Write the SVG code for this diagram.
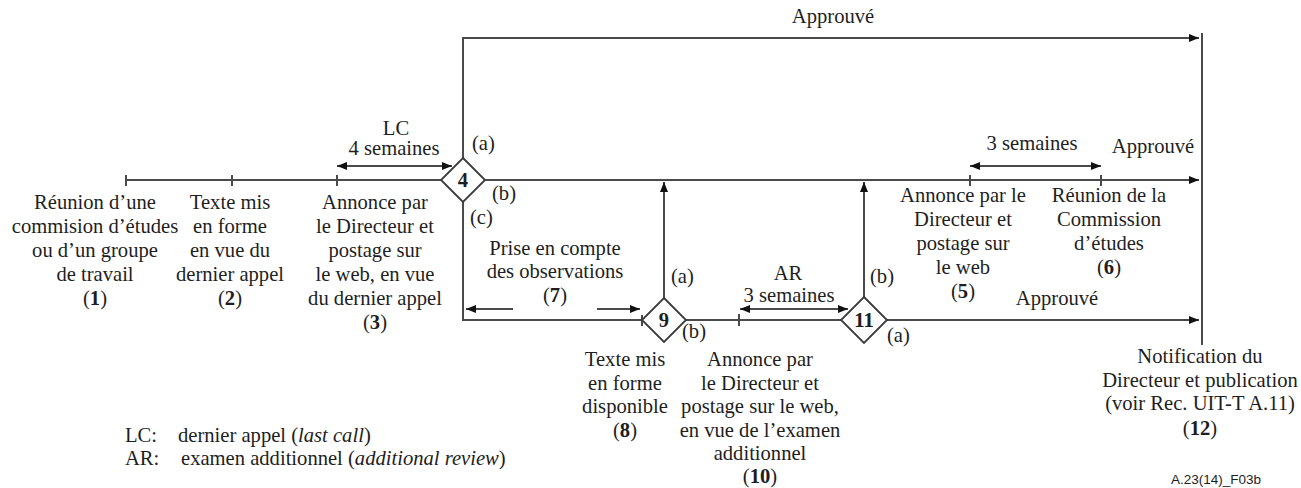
<svg xmlns="http://www.w3.org/2000/svg" width="1301" height="488" viewBox="0 0 1301 488">
  <style>
    text { font-family: "Liberation Serif", "Times New Roman", serif; font-size: 20.6px; fill: #1e1e1e; }
    .c { text-anchor: middle; }
    .b { font-weight: bold; }
    .ln { stroke: #4a4a4a; stroke-width: 2; fill: none; }
    .dm { stroke: #3a3a3a; stroke-width: 1.8; fill: #fff; }
    .code { font-family: "Liberation Sans", Arial, sans-serif; font-size: 13.5px; text-anchor: end; }
  </style>
  <defs>
    <marker id="arr" viewBox="0 0 10 8" refX="10" refY="4" markerWidth="10" markerHeight="8" markerUnits="userSpaceOnUse" orient="auto-start-reverse">
      <path d="M0,0 L10,4 L0,8 Z" fill="#111"/>
    </marker>
  </defs>

  <rect width="1301" height="488" fill="#fff"/>

  <!-- connectors -->
  <g id="connectors">
    <!-- main timeline -->
    <line class="ln" x1="126" y1="180" x2="441" y2="180"/>
    <line class="ln" x1="485" y1="180" x2="1199" y2="180" marker-end="url(#arr)"/>
    <line class="ln" x1="126" y1="175" x2="126" y2="186"/>
    <line class="ln" x1="232" y1="175" x2="232" y2="186"/>
    <line class="ln" x1="337" y1="175" x2="337" y2="186"/>
    <line class="ln" x1="970" y1="175" x2="970" y2="186"/>
    <line class="ln" x1="1101" y1="175" x2="1101" y2="186"/>

    <!-- (a) branch of 4: approved directly -->
    <polyline class="ln" points="463,158 463,38 1199,38" marker-end="url(#arr)"/>

    <!-- final bar -->
    <line class="ln" x1="1202" y1="33" x2="1202" y2="345"/>

    <!-- (c) branch of 4 to 9 -->
    <polyline class="ln" points="463,202 463,320 642,320"/>
    <line class="ln" x1="642" y1="315" x2="642" y2="326"/>

    <!-- 9 to 11 -->
    <line class="ln" x1="686" y1="320" x2="841" y2="320"/>
    <line class="ln" x1="739" y1="314" x2="739" y2="326"/>

    <!-- (a) branch of 11 -->
    <line class="ln" x1="887" y1="320" x2="1199" y2="320" marker-end="url(#arr)"/>

    <!-- upward returns to main line -->
    <line class="ln" x1="664" y1="298" x2="664" y2="182" marker-end="url(#arr)"/>
    <line class="ln" x1="864" y1="297" x2="864" y2="182" marker-end="url(#arr)"/>

    <!-- duration arrows -->
    <line class="ln" x1="337" y1="166" x2="452" y2="166" marker-start="url(#arr)" marker-end="url(#arr)"/>
    <line class="ln" x1="970" y1="166" x2="1101" y2="166" marker-start="url(#arr)" marker-end="url(#arr)"/>
    <line class="ln" x1="466" y1="309" x2="513" y2="309" marker-start="url(#arr)"/>
    <line class="ln" x1="597" y1="309" x2="640" y2="309" marker-end="url(#arr)"/>
    <line class="ln" x1="740" y1="309" x2="848" y2="309" marker-start="url(#arr)" marker-end="url(#arr)"/>
  </g>

  <!-- decision 4 -->
  <g id="node-4">
    <polygon class="dm" points="463,158 485,180 463,202 441,180"/>
    <text class="c b" x="463" y="187">4</text>
    <text x="472" y="150">(a)</text>
    <text x="492" y="200">(b)</text>
    <text x="470" y="224">(c)</text>
  </g>

  <!-- decision 9 -->
  <g id="node-9">
    <polygon class="dm" points="664,298 686,320 664,342 642,320"/>
    <text class="c b" x="664" y="327">9</text>
    <text x="671" y="283">(a)</text>
    <text x="682" y="338">(b)</text>
  </g>

  <!-- decision 11 -->
  <g id="node-11">
    <polygon class="dm" points="864,297 887,320 864,343 841,320"/>
    <text class="c b" x="864" y="327">11</text>
    <text x="870" y="283">(b)</text>
    <text x="887" y="342">(a)</text>
  </g>

  <g id="step-1">
    <text class="c" x="95" y="209">Réunion d’une</text>
    <text class="c" x="95" y="233">commision d’études</text>
    <text class="c" x="95" y="257">ou d’un groupe</text>
    <text class="c" x="95" y="281">de travail</text>
    <text class="c" x="95" y="305">(<tspan class="b">1</tspan>)</text>
  </g>

  <g id="step-2">
    <text class="c" x="230" y="209">Texte mis</text>
    <text class="c" x="230" y="233">en forme</text>
    <text class="c" x="230" y="257">en vue du</text>
    <text class="c" x="230" y="281">dernier appel</text>
    <text class="c" x="230" y="305">(<tspan class="b">2</tspan>)</text>
  </g>

  <g id="step-3">
    <text class="c" x="375" y="209">Annonce par</text>
    <text class="c" x="375" y="233">le Directeur et</text>
    <text class="c" x="375" y="257">postage sur</text>
    <text class="c" x="375" y="281">le web, en vue</text>
    <text class="c" x="375" y="305">du dernier appel</text>
    <text class="c" x="375" y="329">(<tspan class="b">3</tspan>)</text>
  </g>

  <g id="step-5">
    <text class="c" x="963" y="202">Annonce par le</text>
    <text class="c" x="963" y="226">Directeur et</text>
    <text class="c" x="963" y="250">postage sur</text>
    <text class="c" x="963" y="274">le web</text>
    <text class="c" x="963" y="298">(<tspan class="b">5</tspan>)</text>
  </g>

  <g id="step-6">
    <text class="c" x="1109" y="202">Réunion de la</text>
    <text class="c" x="1109" y="226">Commission</text>
    <text class="c" x="1109" y="250">d’études</text>
    <text class="c" x="1109" y="274">(<tspan class="b">6</tspan>)</text>
  </g>

  <g id="step-7">
    <text class="c" x="555" y="255">Prise en compte</text>
    <text class="c" x="555" y="278">des observations</text>
    <text class="c" x="555" y="302">(<tspan class="b">7</tspan>)</text>
  </g>

  <g id="step-8">
    <text class="c" x="625" y="366">Texte mis</text>
    <text class="c" x="625" y="390">en forme</text>
    <text class="c" x="625" y="413">disponible</text>
    <text class="c" x="625" y="437">(<tspan class="b">8</tspan>)</text>
  </g>

  <g id="step-10">
    <text class="c" x="760" y="366">Annonce par</text>
    <text class="c" x="760" y="390">le Directeur et</text>
    <text class="c" x="760" y="413">postage sur le web,</text>
    <text class="c" x="760" y="437">en vue de l’examen</text>
    <text class="c" x="760" y="460">additionnel</text>
    <text class="c" x="760" y="483">(<tspan class="b">10</tspan>)</text>
  </g>

  <g id="step-12">
    <text class="c" x="1200" y="363">Notification du</text>
    <text class="c" x="1200" y="387">Directeur et publication</text>
    <text class="c" x="1200" y="410">(voir Rec. UIT-T A.11)</text>
    <text class="c" x="1200" y="435">(<tspan class="b">12</tspan>)</text>
  </g>

  <!-- connector labels -->
  <g id="labels">
    <text class="c" x="833" y="23">Approuvé</text>
    <text class="c" x="1153" y="153">Approuvé</text>
    <text class="c" x="1057" y="305">Approuvé</text>
    <text class="c" x="396" y="135">LC</text>
    <text class="c" x="394" y="155">4 semaines</text>
    <text class="c" x="1032" y="150">3 semaines</text>
    <text class="c" x="788" y="280">AR</text>
    <text class="c" x="789" y="302">3 semaines</text>
  </g>

  <!-- legend -->
  <g id="legend">
    <text x="125" y="442">LC:</text>
    <text x="178" y="442">dernier appel (<tspan font-style="italic">last call</tspan>)</text>
    <text x="125" y="465">AR:</text>
    <text x="181" y="465">examen additionnel (<tspan font-style="italic">additional review</tspan>)</text>
  </g>

  <text class="code" x="1261" y="484">A.23(14)_F03b</text>
</svg>
